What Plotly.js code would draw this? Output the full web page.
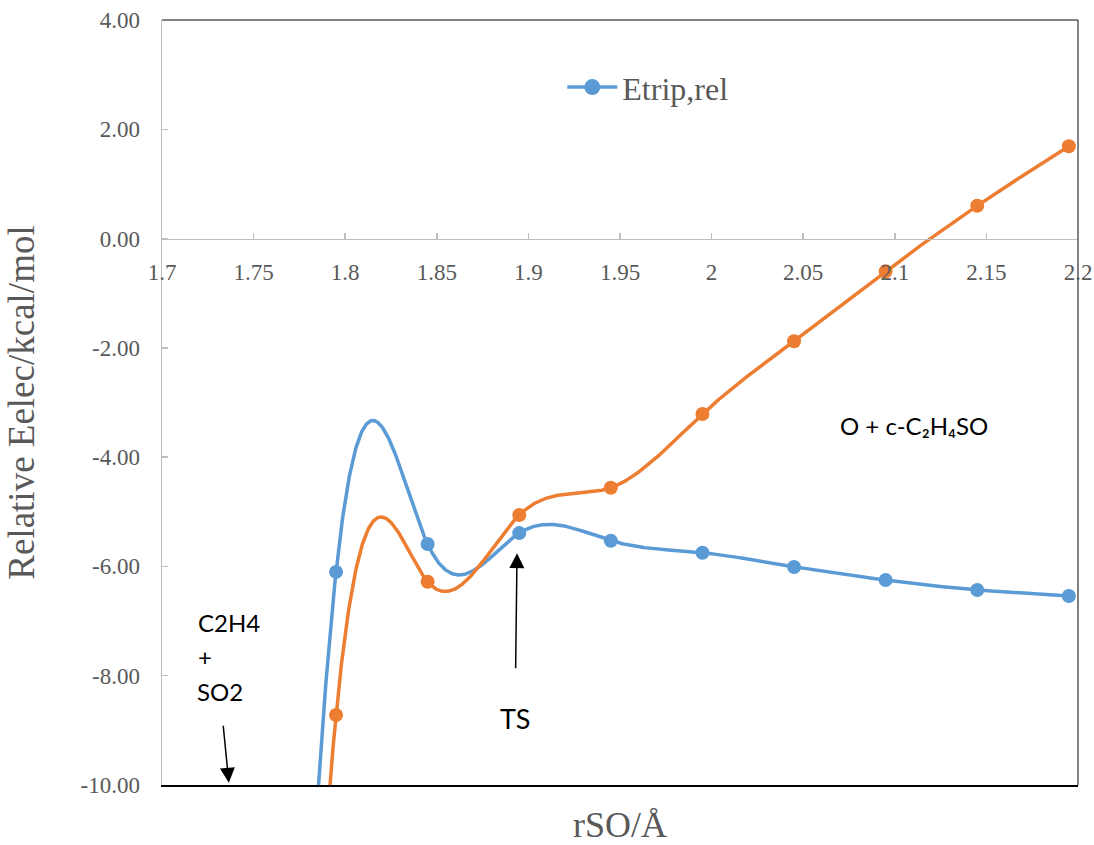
<!DOCTYPE html>
<html>
<head>
<meta charset="utf-8">
<script src="https://cdn.plot.ly/plotly-3.0.1.min.js"></script>
<style>html,body{margin:0;padding:0;background:#fff;}#chart{width:1094px;height:845px;}</style>
</head>
<body>
<div id="chart"></div>
<script>
// ---- data (first point = reactant C2H4 + SO2, off-scale, estimated) ----
const rSO = [1.745, 1.795, 1.845, 1.895, 1.945, 1.995, 2.045, 2.095, 2.145, 2.195];
const eTrip = [-39.0, -6.10, -5.59, -5.39, -5.53, -5.75, -6.01, -6.25, -6.43, -6.54];
const eSing = [-42.8, -8.72, -6.28, -5.06, -4.56, -3.21, -1.88, -0.60, 0.60, 1.69];
const tripName = 'Etrip,rel';
const singName = 'Esing,rel';
const xTickVals = [1.7, 1.75, 1.8, 1.85, 1.9, 1.95, 2.0, 2.05, 2.1, 2.15, 2.2];
const xTickText = ['1.7', '1.75', '1.8', '1.85', '1.9', '1.95', '2', '2.05', '2.1', '2.15', '2.2'];
const yTickVals = [4, 2, 0, -2, -4, -6, -8, -10];
const yTickText = ['4.00', '2.00', '0.00', '-2.00', '-4.00', '-6.00', '-8.00', '-10.00'];

const BLUE = '#5B9BD5', ORANGE = '#ED7D31';

// smoothed line through the data points (natural cubic spline rendering of the series)
function smoothLine(xs, ys, perSeg) {
  const n = xs.length, h = [];
  for (let i = 0; i < n - 1; i++) h.push(xs[i + 1] - xs[i]);
  const a = [], b = [], c = [], d = [];
  for (let i = 1; i < n - 1; i++) {
    a.push(h[i - 1]); b.push(2 * (h[i - 1] + h[i])); c.push(h[i]);
    d.push(6 * ((ys[i + 1] - ys[i]) / h[i] - (ys[i] - ys[i - 1]) / h[i - 1]));
  }
  const m = b.length;
  for (let i = 1; i < m; i++) { const w = a[i] / b[i - 1]; b[i] -= w * c[i - 1]; d[i] -= w * d[i - 1]; }
  const Mi = new Array(m);
  Mi[m - 1] = d[m - 1] / b[m - 1];
  for (let i = m - 2; i >= 0; i--) Mi[i] = (d[i] - c[i] * Mi[i + 1]) / b[i];
  const M = [0].concat(Mi, [0]);
  const ox = [], oy = [];
  for (let i = 0; i < n - 1; i++) {
    for (let k = 0; k < perSeg; k++) {
      const t = k / perSeg, A = 1 - t, B = t;
      ox.push(xs[i] + t * h[i]);
      oy.push(A * ys[i] + B * ys[i + 1] + ((A * A * A - A) * M[i] + (B * B * B - B) * M[i + 1]) * h[i] * h[i] / 6);
    }
  }
  ox.push(xs[n - 1]); oy.push(ys[n - 1]);
  return {x: ox, y: oy};
}

const tripCurve = smoothLine(rSO, eTrip, 200);
const singCurve = smoothLine(rSO, eSing, 200);

const traces = [
  {x: tripCurve.x, y: tripCurve.y, mode: 'lines', line: {color: BLUE, width: 3.5}, showlegend: false, hoverinfo: 'skip', xaxis: 'x', yaxis: 'y'},
  {x: rSO, y: eTrip, mode: 'markers', name: tripName, marker: {color: BLUE, size: 14}, showlegend: false, xaxis: 'x', yaxis: 'y'},
  {x: singCurve.x, y: singCurve.y, mode: 'lines', line: {color: ORANGE, width: 3.5}, showlegend: false, hoverinfo: 'skip', xaxis: 'x', yaxis: 'y'},
  {x: rSO, y: eSing, mode: 'markers', name: singName, marker: {color: ORANGE, size: 14}, showlegend: false, xaxis: 'x', yaxis: 'y'},
  // legend entry for the blue series
  {x: [null], y: [null], mode: 'lines+markers', name: tripName, line: {color: BLUE, width: 3.5}, marker: {color: BLUE, size: 16}, showlegend: true, xaxis: 'x2', yaxis: 'y'}
];

const tickFont = {family: 'Liberation Serif, Times New Roman, serif', size: 23, color: '#595959'};
const titleFont = {family: 'Liberation Serif, Times New Roman, serif', size: 36, color: '#595959'};
const noteFont = {family: 'Lato, Carlito, sans-serif', size: 24, color: '#000000'};

const layout = {
  width: 1094, height: 845,
  margin: {l: 162, r: 16, t: 20, b: 60},
  paper_bgcolor: '#ffffff', plot_bgcolor: '#ffffff',
  showlegend: true,
  legend: {x: 0.437, y: 0.912, xanchor: 'left', yanchor: 'middle', bgcolor: 'rgba(0,0,0,0)',
           font: {family: 'Liberation Serif, Times New Roman, serif', size: 32, color: '#595959'}, itemwidth: 50},
  xaxis: {range: [1.7, 2.2], anchor: 'free', position: 10 / 14, tickmode: 'array', tickvals: xTickVals, ticktext: xTickText,
          ticks: 'inside', ticklen: 6, tickwidth: 1.5, tickcolor: '#bfbfbf', showline: true, linecolor: '#bfbfbf', linewidth: 1.5,
          showgrid: false, zeroline: false, tickfont: tickFont, ticklabelstandoff: 12, automargin: false},
  xaxis2: {range: [1.7, 2.2], overlaying: 'x', anchor: 'y', side: 'bottom', showline: true, linecolor: '#000000', linewidth: 1.5,
           showticklabels: false, ticks: '', showgrid: false, zeroline: false, automargin: false,
           title: {text: 'rSO/Å', font: titleFont, standoff: 30}},
  yaxis: {range: [-10, 4], tickmode: 'array', tickvals: yTickVals, ticktext: yTickText,
          ticks: 'inside', ticklen: 6, tickwidth: 1.5, tickcolor: '#bfbfbf', showline: true, linecolor: '#bfbfbf', linewidth: 1.5,
          showgrid: false, zeroline: false, tickfont: tickFont, ticklabelstandoff: 16, automargin: false,
          title: {text: 'Relative Eelec/kcal/mol', font: {family: 'Liberation Serif, Times New Roman, serif', size: 37, color: '#595959'}, standoff: 34}},
  shapes: [
    {type: 'line', xref: 'paper', yref: 'paper', x0: 0, x1: 1, y0: 1, y1: 1, line: {color: '#595959', width: 1.5}},
    {type: 'line', xref: 'paper', yref: 'paper', x0: 1, x1: 1, y0: 0, y1: 1, line: {color: '#595959', width: 1.5}}
  ],
  annotations: [
    {xref: 'x', yref: 'y', x: 2.069, y: -3.42, xanchor: 'left', yanchor: 'middle', showarrow: false,
     text: 'O + c-C\u2082H\u2084SO', font: noteFont},
    {xref: 'x', yref: 'y', x: 1.7186, y: -7.02, xanchor: 'left', yanchor: 'middle', showarrow: false, text: 'C2H4', font: noteFont},
    {xref: 'x', yref: 'y', x: 1.7186, y: -7.64, xanchor: 'left', yanchor: 'middle', showarrow: false, text: '+', font: noteFont},
    // "SO2" with its arrow pointing down to the off-scale reactant level
    {xref: 'x', yref: 'y', x: 1.7365, y: -9.96, ax: -9, ay: -91, text: 'SO2', font: noteFont, showarrow: true,
     arrowhead: 2, arrowsize: 2, arrowwidth: 1.5, arrowcolor: '#000000', startstandoff: 18},
    // "TS" with its arrow pointing up to the transition state
    {xref: 'x', yref: 'y', x: 1.8938, y: -5.757, ax: -2, ay: 165, text: 'TS', showarrow: true,
     font: {family: 'Lato, Carlito, sans-serif', size: 27, color: '#000000'},
     arrowhead: 2, arrowsize: 2, arrowwidth: 1.5, arrowcolor: '#000000', startstandoff: 32}
  ]
};

Plotly.newPlot('chart', traces, layout, {displayModeBar: false, staticPlot: true});
</script>
</body>
</html>
